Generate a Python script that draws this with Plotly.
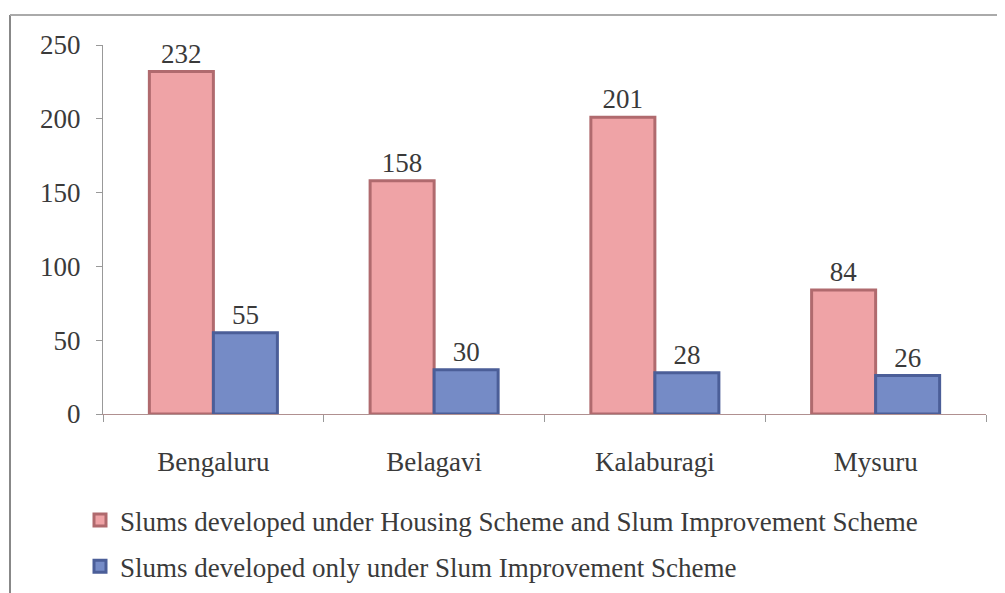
import plotly.graph_objects as go

categories = ["Bengaluru", "Belagavi", "Kalaburagi", "Mysuru"]
housing_and_improvement = [232, 158, 201, 84]
improvement_only = [55, 30, 28, 26]
series_names = [
    "Slums developed under Housing Scheme and Slum Improvement Scheme",
    "Slums developed only under Slum Improvement Scheme",
]
y_ticks = [0, 50, 100, 150, 200, 250]

OFF = 8  # page body margin
W, H = 1005, 593
L, R, T, B = 103 - OFF, W + OFF - 986, 45 - OFF, H + OFF - 414
pw, ph = W - L - R, H - T - B

def px_x(p):
    return (p - OFF - L) / pw

def px_y(p):
    return (H + OFF - B - p) / ph

font = "Liberation Serif"
fs = 27
txt = "#3a3a3a"
fig = go.Figure()
fig.add_trace(go.Bar(
    x=categories, y=housing_and_improvement, name=series_names[0],
    legendgroup="a",
    marker=dict(color="#EFA3A6", line=dict(color="#B06A6E", width=3)),
    text=housing_and_improvement, textposition="outside",
    textfont=dict(family=font, size=fs, color=txt),
    cliponaxis=False,
))
fig.add_trace(go.Bar(
    x=categories, y=improvement_only, name=series_names[1],
    legendgroup="b",
    marker=dict(color="#758BC6", line=dict(color="#4B5E98", width=3)),
    text=improvement_only, textposition="outside",
    textfont=dict(family=font, size=fs, color=txt),
    cliponaxis=False,
))

fig.update_layout(
    width=W, height=H,
    margin=dict(l=L, r=R, t=T, b=B, autoexpand=False),
    paper_bgcolor="white", plot_bgcolor="white",
    barmode="group", bargap=0.42, bargroupgap=0,
    font=dict(family=font, size=fs, color=txt),
    showlegend=True,
    legend=dict(
        x=px_x(80), y=px_y(496), xanchor="left", yanchor="top",
        orientation="v", font=dict(family=font, size=fs, color=txt),
        tracegroupgap=8, itemwidth=30,
    ),
    yaxis=dict(
        range=[0, 250], tickvals=y_ticks, showgrid=False, zeroline=False,
        showline=True, linecolor="#999999", linewidth=1,
        ticks="outside", ticklen=6, tickcolor="#999999",
        tickfont=dict(family=font, size=fs, color=txt),
        ticklabelstandoff=10,
    ),
    xaxis=dict(
        showgrid=False, showline=True, linecolor="#B09090", linewidth=1,
        ticks="outside", ticklen=7, tickcolor="#999999",
        tickson="boundaries",
        tickfont=dict(family=font, size=fs, color=txt),
        ticklabelstandoff=24,
    ),
    shapes=[
        dict(type="line", xref="paper", yref="paper",
             x0=px_x(10), x1=px_x(10), y0=px_y(15), y1=px_y(610),
             line=dict(color="#888888", width=2)),
        dict(type="line", xref="paper", yref="paper",
             x0=px_x(10), x1=px_x(1020), y0=px_y(15), y1=px_y(15),
             line=dict(color="#AAAAAA", width=2)),
    ],
)

fig.write_html("out.html")
